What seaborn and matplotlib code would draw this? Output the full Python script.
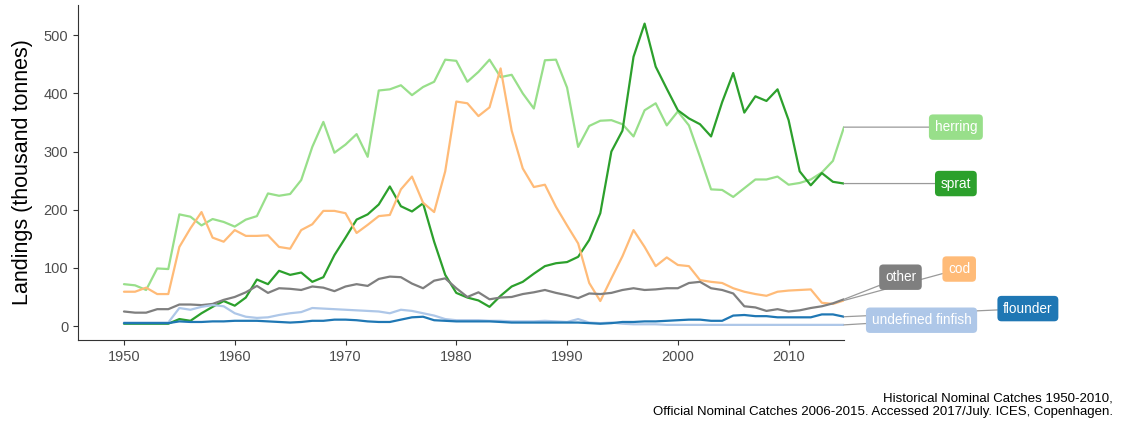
import numpy as np
import pandas as pd
import matplotlib
matplotlib.use("Agg")
import matplotlib.pyplot as plt
import seaborn as sns

years = list(range(1950, 2016))

herring = [72, 70, 62, 99, 98, 192, 188, 173, 184, 179,
           171, 183, 189, 228, 224, 227, 251, 308, 351, 298,
           312, 330, 291, 405, 407, 414, 397, 411, 420, 458,
           456, 420, 437, 458, 428, 432, 400, 374, 457, 458,
           410, 308, 344, 353, 354, 347, 326, 371, 383, 345,
           369, 345, 291, 235, 234, 222, 237, 252, 252, 257,
           243, 246, 252, 264, 284, 342]

sprat = [4, 4, 4, 4, 4, 12, 9, 22, 33, 43,
         35, 49, 80, 72, 95, 88, 92, 76, 84, 122,
         152, 183, 192, 209, 240, 206, 197, 211, 145, 88,
         57, 49, 44, 33, 52, 68, 76, 90, 103, 108,
         110, 119, 148, 194, 300, 336, 463, 520, 446, 408,
         371, 357, 347, 326, 385, 435, 367, 395, 387, 407,
         354, 266, 242, 263, 248, 245]

cod = [59, 59, 66, 55, 55, 136, 168, 196, 152, 145,
       165, 155, 155, 156, 136, 133, 165, 175, 198, 198,
       194, 160, 174, 189, 191, 235, 257, 212, 196, 266,
       386, 383, 361, 376, 443, 336, 271, 239, 243, 205,
       173, 142, 74, 43, 82, 120, 165, 136, 103, 118,
       105, 103, 79, 76, 74, 65, 59, 55, 52, 59,
       61, 62, 63, 40, 38, 44]

other = [25, 23, 23, 29, 29, 37, 37, 36, 38, 45,
         50, 58, 69, 57, 65, 64, 62, 68, 66, 60,
         68, 72, 69, 81, 85, 84, 73, 65, 78, 82,
         65, 50, 58, 46, 49, 50, 55, 58, 62, 57,
         53, 48, 56, 55, 57, 62, 65, 62, 63, 65,
         65, 74, 76, 65, 62, 56, 34, 32, 26, 29,
         25, 27, 31, 34, 39, 46]

undefined_finfish = [6, 6, 6, 6, 6, 31, 28, 33, 36, 34,
                     22, 16, 14, 15, 19, 22, 24, 31, 30, 29,
                     28, 27, 26, 25, 22, 28, 26, 22, 18, 12,
                     10, 10, 10, 9, 9, 8, 8, 8, 9, 8,
                     7, 12, 6, 5, 6, 4, 3, 3, 3, 2,
                     2, 2, 2, 2, 2, 2, 2, 2, 2, 2,
                     2, 2, 2, 2, 2, 2]

flounder = [5, 5, 5, 5, 5, 8, 7, 7, 8, 8,
            9, 9, 9, 8, 7, 6, 7, 9, 9, 11,
            11, 10, 8, 7, 7, 11, 15, 16, 10, 9,
            8, 8, 8, 8, 7, 6, 6, 6, 6, 6,
            6, 6, 5, 4, 5, 7, 7, 8, 8, 9,
            10, 11, 11, 9, 9, 18, 19, 17, 17, 15,
            15, 15, 15, 20, 20, 16]

species = ["herring", "sprat", "cod", "other", "undefined finfish", "flounder"]
series = [herring, sprat, cod, other, undefined_finfish, flounder]
colors = ["#98df8a", "#2ca02c", "#ffbb78", "#7f7f7f", "#aec7e8", "#1f77b4"]
x_ticks = [1950, 1960, 1970, 1980, 1990, 2000, 2010]
y_ticks = [0, 100, 200, 300, 400, 500]
y_label = "Landings (thousand tonnes)"
caption = ("Historical Nominal Catches 1950-2010,\n"
           "Official Nominal Catches 2006-2015. Accessed 2017/July. ICES, Copenhagen.")

# label box placement (data coords, outside panel)
label_pos = {
    "herring": (2025.1, 342),
    "sprat": (2025.1, 245),
    "other": (2020.1, 84),
    "cod": (2025.4, 98),
    "undefined finfish": (2022.0, 10),
    "flounder": (2031.6, 30),
}

df = pd.DataFrame({
    "year": np.tile(years, len(species)),
    "landings": np.concatenate([np.asarray(s, dtype=float) for s in series]),
    "species": np.repeat(species, len(years)),
})

sns.set_theme(style="ticks")
plt.rcParams["font.family"] = ["Liberation Sans", "DejaVu Sans"]

fig = plt.figure(figsize=(11.21, 4.30), dpi=100)
ax = fig.add_axes([78 / 1121, 1 - 340 / 430, (844 - 78) / 1121, (340 - 5) / 430])

palette = dict(zip(species, colors))
sns.lineplot(data=df, x="year", y="landings", hue="species", palette=palette,
             hue_order=species, linewidth=1.6, legend=False, ax=ax)

ax.set_xlim(1945.85, 2015.0)
ax.set_ylim(-24, 552)
ax.set_xticks(x_ticks)
ax.set_yticks(y_ticks)
ax.set_xlabel("")
ax.set_ylabel(y_label, fontsize=15.5, color="black", labelpad=8)
ax.tick_params(axis="both", labelsize=10.5, labelcolor="#4d4d4d", color="#333333",
               length=3.5, width=0.8)
for side in ["top", "right"]:
    ax.spines[side].set_visible(False)
for side in ["left", "bottom"]:
    ax.spines[side].set_color("#333333")
    ax.spines[side].set_linewidth(0.8)

# order so that later boxes cover earlier leader lines
draw_order = ["herring", "sprat", "cod", "other", "flounder", "undefined finfish"]
for name in draw_order:
    vals = series[species.index(name)]
    ax.annotate(
        name, xy=(years[-1], vals[-1]), xytext=label_pos[name],
        textcoords="data", xycoords="data", ha="center", va="center",
        fontsize=9.8, color="white", annotation_clip=False,
        bbox=dict(boxstyle="round,pad=0.42,rounding_size=0.3",
                  fc=palette[name], ec="none"),
        arrowprops=dict(arrowstyle="-", color="#9a9a9a", lw=0.9,
                        shrinkA=0, shrinkB=0),
    )

fig.text(1113 / 1121, 1 - 405 / 430, caption, ha="right", va="center",
         multialignment="right", fontsize=9.5, color="black", linespacing=1.15)

fig.savefig("out.png", dpi=100)
